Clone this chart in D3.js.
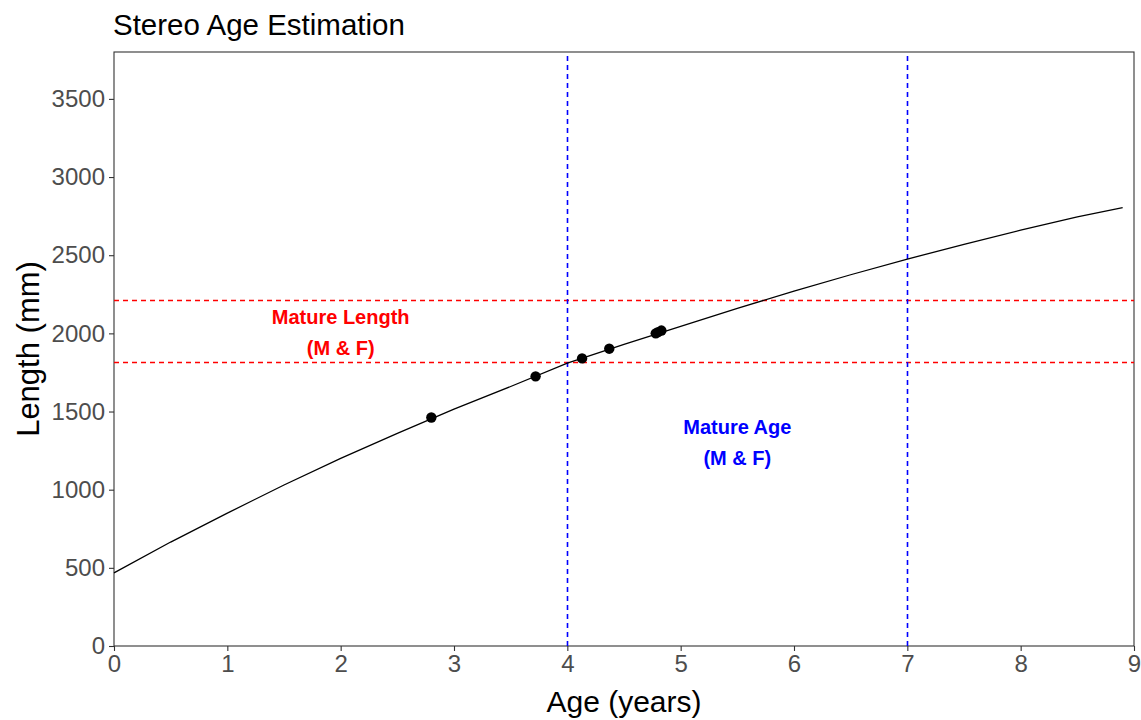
<!doctype html>
<html lang="en">
<head>
  <meta charset="UTF-8">
  <title>Stereo Age Estimation</title>
  <script src="https://cdnjs.cloudflare.com/ajax/libs/d3/7.8.5/d3.min.js"></script>
  <style>
  body { margin: 0; background: #fff; }
  svg { font-family: "Liberation Sans", Arial, sans-serif; }
  </style>
</head>
<body>
<script>

// fitted growth curve (age, length)
var curveAge = [0, 0.5, 1, 1.5, 2, 2.5, 3, 3.5, 4, 4.5, 5, 5.5, 6, 6.5, 7, 7.5, 8, 8.5, 8.9];
var curveLen = [468, 665, 850, 1030, 1200, 1360, 1515, 1660, 1810, 1930, 2045, 2160, 2270, 2375, 2475, 2570, 2660, 2745, 2805];

// observed fish
var obsAge = [2.80, 3.72, 4.13, 4.37, 4.78, 4.80, 4.83];
var obsLen = [1462, 1725, 1840, 1902, 2000, 2008, 2018];

// maturity reference lines
var matureLength = [1820, 2215];
var matureAge = [4, 7];

var xTicks = [0, 1, 2, 3, 4, 5, 6, 7, 8, 9];
var yTicks = [0, 500, 1000, 1500, 2000, 2500, 3000, 3500];

var w = 1141, h = 720;
var m = {top: 52, right: 7, bottom: 74, left: 114};

var svg = d3.select('body').append('svg')
  .attr('width', w)
  .attr('height', h);

var x = d3.scaleLinear().domain([0, 9]).range([m.left, w - m.right]);
var y = d3.scaleLinear().domain([0, 3800]).range([h - m.bottom, m.top]);

// axes
var xAxis = svg.append('g')
  .attr('transform', 'translate(0,' + (h - m.bottom) + ')')
  .call(d3.axisBottom(x).tickValues(xTicks).tickSize(5).tickPadding(4).tickFormat(d3.format('d')));
var yAxis = svg.append('g')
  .attr('transform', 'translate(' + m.left + ',0)')
  .call(d3.axisLeft(y).tickValues(yTicks).tickSize(5).tickPadding(4).tickFormat(d3.format('d')));

[xAxis, yAxis].forEach(function(a) {
  a.select('.domain').remove();
  a.selectAll('line').attr('stroke', '#333').attr('stroke-width', 1.1);
  a.selectAll('text')
    .attr('fill', '#4d4d4d')
    .style('font-size', '24px')
    .style('font-family', '"Liberation Sans", Arial, sans-serif');
});

// panel border
svg.append('rect')
  .attr('x', x(0))
  .attr('y', m.top)
  .attr('width', x(9) - x(0))
  .attr('height', y(0) - m.top)
  .attr('fill', 'none')
  .attr('stroke', '#333')
  .attr('stroke-width', 1.1);

// reference lines
svg.selectAll('.hline')
  .data(matureLength)
  .enter()
  .append('line')
  .attr('class', 'hline')
  .attr('x1', x(0)).attr('x2', x(9))
  .attr('y1', function(d) { return Math.round(y(d)) + 0.5; })
  .attr('y2', function(d) { return Math.round(y(d)) + 0.5; })
  .attr('stroke', '#ff0000')
  .attr('stroke-width', 1.6)
  .attr('stroke-dasharray', '5,4');

svg.selectAll('.vline')
  .data(matureAge)
  .enter()
  .append('line')
  .attr('class', 'vline')
  .attr('y1', y(0)).attr('y2', m.top)
  .attr('x1', function(d) { return Math.round(x(d)) + 0.5; })
  .attr('x2', function(d) { return Math.round(x(d)) + 0.5; })
  .attr('stroke', '#0000ff')
  .attr('stroke-width', 1.6)
  .attr('stroke-dasharray', '5,4');

// growth curve
var line = d3.line()
  .x(function(d) { return x(d[0]); })
  .y(function(d) { return y(d[1]); });

svg.append('path')
  .datum(d3.zip(curveAge, curveLen))
  .attr('d', line)
  .attr('fill', 'none')
  .attr('stroke', 'black')
  .attr('stroke-width', 1.3);

svg.selectAll('circle')
  .data(d3.zip(obsAge, obsLen))
  .enter()
  .append('circle')
  .attr('cx', function(d) { return x(d[0]); })
  .attr('cy', function(d) { return y(d[1]); })
  .attr('r', 5.2)
  .attr('fill', 'black');

// annotations
function note(ax, len, color, txt) {
  var t = svg.append('text')
    .attr('text-anchor', 'middle')
    .attr('fill', color)
    .style('font-size', '20px')
    .style('font-weight', 'bold');
  t.append('tspan').attr('x', x(ax)).attr('y', y(len) - 9).text(txt);
  t.append('tspan').attr('x', x(ax)).attr('y', y(len) + 22).text('(M & F)');
}
note(2, 2000, 'red', 'Mature Length');
note(5.5, 1300, 'blue', 'Mature Age');

// titles
svg.append('text')
  .attr('x', m.left - 1)
  .attr('y', 35)
  .style('font-size', '29.5px')
  .attr('fill', 'black')
  .text('Stereo Age Estimation');

svg.append('text')
  .attr('x', (x(0) + x(9)) / 2)
  .attr('y', 712)
  .attr('text-anchor', 'middle')
  .style('font-size', '30px')
  .attr('fill', 'black')
  .text('Age (years)');

svg.append('text')
  .attr('transform', 'translate(39,' + ((y(0) + m.top) / 2) + ') rotate(-90)')
  .attr('text-anchor', 'middle')
  .style('font-size', '31px')
  .attr('fill', 'black')
  .text('Length (mm)');

</script>
</body>
</html>
